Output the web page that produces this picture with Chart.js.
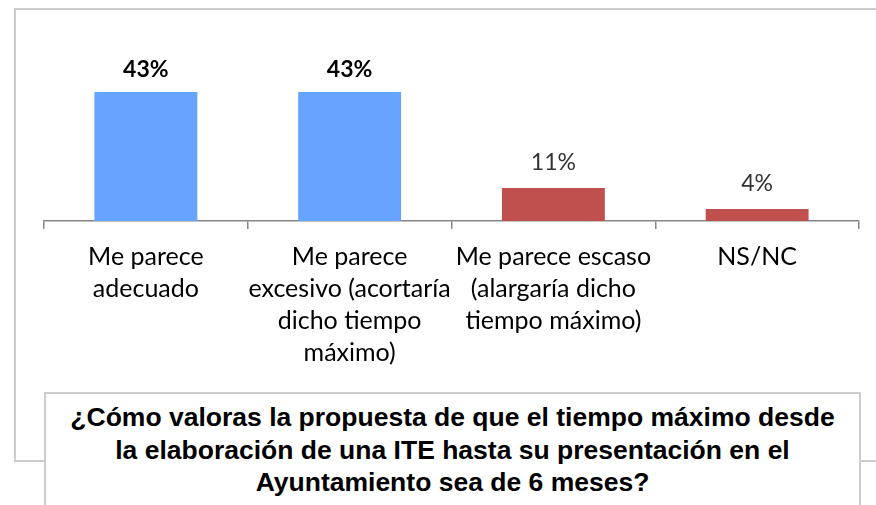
<!DOCTYPE html>
<html>
<head>
<meta charset="utf-8">
<script src="https://cdn.jsdelivr.net/npm/chart.js@4/dist/chart.umd.min.js"></script>
<style>
  body { margin: 0; background: #fff; }
  #wrap { position: relative; width: 876px; height: 505px; overflow: hidden; }
  #frame { position: absolute; left: 14px; top: 8px; width: 900px; height: 454px; border: 2px solid #cccccc; box-sizing: border-box; }
  #box { position: absolute; left: 44px; top: 392px; width: 817px; height: 140px; border: 2px solid #cccccc; box-sizing: border-box; background: #fff;
         font-family: "Liberation Sans", Arial, sans-serif; font-weight: bold; font-size: 26.5px; line-height: 32.5px; text-align: center; padding-top: 7px; color: #000; }
  #chart { position: absolute; left: 0; top: 0; width: 876px; height: 505px; }
</style>
</head>
<body>
<div id="wrap">
  <div id="frame"></div>
  <div id="chart"><canvas id="myChart"></canvas></div>
  <div id="box">¿Cómo valoras la propuesta de que el tiempo máximo desde<br>la elaboración de una ITE hasta su presentación en el<br>Ayuntamiento sea de 6 meses?</div>
</div>
<script>
var categories = [
    ['Me parece', 'adecuado'],
    ['Me parece', 'excesivo (acortaría', 'dicho tiempo', 'máximo)'],
    ['Me parece escaso', '(alargaría dicho', 'tiempo máximo)'],
    ['NS/NC']
];
var values = [43, 43, 11, 4];
var valueLabels = ['43%', '43%', '11%', '4%'];

var barColors = ['#66a3ff', '#66a3ff', '#c0504d', '#c0504d'];
var labelBold = [true, true, false, false];

// Draws the percentage above each bar
var valueLabelPlugin = {
    id: 'valueLabels',
    afterDatasetsDraw: function (chart) {
        var ctx = chart.ctx;
        var meta = chart.getDatasetMeta(0);
        ctx.save();
        ctx.textAlign = 'center';
        ctx.textBaseline = 'middle';
        meta.data.forEach(function (bar, i) {
            ctx.font = (labelBold[i] ? 'bold ' : '') + '23px Lato';
            ctx.fillStyle = labelBold[i] ? '#000000' : '#333333';
            ctx.fillText(valueLabels[i], bar.x, bar.y - (labelBold[i] ? 22 : 25));
        });
        ctx.restore();
    }
};

var ctx = document.getElementById('myChart').getContext('2d');
var myChart = new Chart(ctx, {
    type: 'bar',
    data: {
        labels: categories,
        datasets: [{
            data: values,
            backgroundColor: barColors,
            borderWidth: 0,
            categoryPercentage: 1,
            barPercentage: 0.505
        }]
    },
    options: {
        responsive: true,
        maintainAspectRatio: false,
        animation: false,
        layout: {
            padding: { left: 44, right: 17, top: 71, bottom: 0 }
        },
        plugins: {
            legend: { display: false },
            tooltip: { enabled: false }
        },
        scales: {
            y: {
                display: false,
                min: 0,
                max: 50
            },
            x: {
                afterFit: function (scale) { scale.height = 284; },
                grid: {
                    display: true,
                    drawOnChartArea: false,
                    drawTicks: true,
                    tickLength: 8,
                    color: '#868686',
                    lineWidth: 1.5,
                    offset: true
                },
                border: { display: true, color: '#868686', width: 1.5 },
                ticks: {
                    color: '#000000',
                    padding: 12,
                    maxRotation: 0,
                    autoSkip: false,
                    font: { family: 'Lato', size: 25, lineHeight: '32px' }
                }
            }
        }
    },
    plugins: [valueLabelPlugin]
});
</script>
</body>
</html>
